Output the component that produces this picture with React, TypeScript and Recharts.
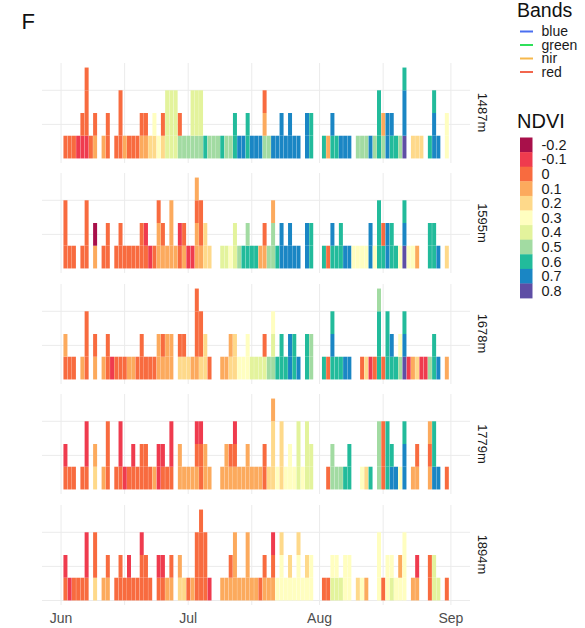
import React from 'react';
import { BarChart, Bar, Cell, XAxis, YAxis, CartesianGrid } from 'recharts';

// NDVI classes, coded 'a'..'k' in the daily stacks below
const NDVI_LEVELS = ['-0.2', '-0.1', '0', '0.1', '0.2', '0.3', '0.4', '0.5', '0.6', '0.7', '0.8'];
const NDVI_COLORS = [
  '#a8104a', '#ef3b4e', '#f86b3f', '#fcaa5d', '#fed98a', '#fffec0',
  '#e3f39c', '#a2dba2', '#22bb9b', '#1a86c4', '#5e4ea5',
];

const BANDS = ['blue', 'green', 'nir', 'red'];
const BAND_COLORS = ['#4a6ff0', '#2fe05a', '#f6b84c', '#f2664d'];

const ELEVATIONS = ['1487m', '1595m', '1678m', '1779m', '1894m'];

// day 0 = 1 June; each string is one day's stack, bottom first
const DAYS_1487 = [
  '', 'c', 'c', 'c', 'b', 'bc', 'bccc', 'c', 'dc', '',
  'd', 'cc', '', 'c', 'ccc', 'd', 'c', 'c', 'c', 'dc',
  'dc', 'e', 'ef', 'f', 'ec', 'ggg', 'ggg', 'ggg', 'hc', 'h',
  'h', 'hgg', 'hgg', 'hgg', 'i', 'h', 'h', 'h', 'i', 'h',
  'h', 'ii', 'j', 'j', 'ii', 'j', 'j', 'j', 'hdc', 'h',
  'j', 'j', 'jj', 'j', 'jj', 'j', 'j', '', 'jj', 'ii',
  '', '', 'i', 'd', 'ij', 'i', 'j', 'j', 'j', '',
  'h', 'h', 'h', 'j', 'h', 'iii', 'hd', 'jj', 'ij', 'i',
  'h', 'kjji', '', 'e', 'e', 'e', '', 'i', 'jji', 'j',
  '', 'ff',
];
const DAYS_1595 = [
  '', 'ccc', 'c', 'c', '', 'c', 'ccc', '', 'da', '',
  'c', 'cc', '', 'c', 'cc', 'c', 'c', 'c', 'c', 'cc',
  'cb', 'b', 'c', 'ddc', 'dc', 'd', 'ddd', 'd', 'cb', 'dc',
  'b', 'b', 'ddcd', 'dcc', 'ee', 'e', '', '', 'g', 'g',
  'f', 'gg', 'h', 'i', 'ih', 'i', 'i', 'd', 'dc', 'h',
  'hhd', 'i', 'jj', 'j', 'jj', 'j', 'j', '', 'jj', 'ii',
  '', '', 'i', 'c', 'ij', 'i', 'ii', 'j', 'j', 'f',
  'f', 'f', 'f', 'jj', 'f', 'iii', 'ic', 'jj', 'ii', 'i',
  'f', 'kji', 'f', 'f', 'd', '', '', 'ii', 'ii', 'j',
  '', 'e',
];
const DAYS_1678 = [
  '', 'cd', 'c', 'c', '', 'd', 'ccc', '', 'dc', '',
  'd', 'cc', 'b', 'c', 'c', 'c', 'd', 'd', 'c', 'cc',
  'c', 'c', 'c', 'dd', 'dc', 'dd', 'dd', '', 'ec', 'ec',
  'e', 'd', 'dccc', 'ecc', 'ee', 'c', '', '', 'd', 'd',
  'ed', 'ee', 'f', 'f', 'ff', 'g', 'g', 'g', 'gc', 'h',
  'hgf', 'i', 'ii', 'i', 'jj', 'ii', 'j', '', 'ii', 'hh',
  '', '', 'i', 'c', 'iji', 'i', 'i', 'j', 'j', '',
  '', 'c', 'e', 'b', 'c', 'iiih', 'c', 'iii', 'ij', 'i',
  'hf', 'kji', 'b', 'd', 'e', 'b', 'b', 'h', 'ii', 'j',
  '', 'd',
];
const DAYS_1779 = [
  '', 'cb', 'c', 'c', '', 'c', 'cbb', '', 'ed', '',
  'd', 'ccc', '', 'c', 'cbb', 'b', 'c', 'cb', 'c', 'cc',
  'cc', 'c', 'd', 'bb', 'cb', 'c', 'cbb', '', 'dd', 'd',
  'd', 'd', 'dcb', 'ccb', 'dd', 'd', '', '', 'd', 'dd',
  'dc', 'dcb', 'd', 'd', 'dd', 'd', 'd', 'd', 'cc', 'e',
  'eeed', 'f', 'eee', 'f', 'ff', 'f', 'ggg', 'f', 'ggg', 'gg',
  '', '', '', 'c', 'hh', 'h', 'h', 'i', 'ii', '',
  '', 'f', 'e', 'i', '', 'hhh', 'ccc', 'iii', 'ji', 'j',
  'f', 'jji', '', 'd', 'dc', '', '', 'dcd', 'jii', 'j',
  '', 'c',
];
const DAYS_1894 = [
  '', 'cb', 'b', 'c', 'c', 'c', 'cbb', '', 'ecc', '',
  'd', 'dc', '', 'c', 'cc', 'c', 'cb', 'c', 'c', 'ccb',
  'cc', 'c', '', 'cb', 'cb', 'd', 'dc', '', 'ed', 'e',
  'c', 'd', 'ccc', 'cccc', 'ccc', 'b', '', '', 'd', 'd',
  'dc', 'ddd', 'd', 'd', 'ddd', 'd', 'd', 'c', 'dc', 'd',
  'dcb', 'f', 'ffe', 'f', 'fe', 'f', 'ffe', 'f', 'fe', 'ff',
  '', '', 'c', 'c', 'gf', 'gf', 'g', 'ff', 'ff', '',
  'e', 'f', 'd', '', '', 'fff', 'c', 'ff', 'gf', 'f',
  'fd', 'fff', '', 'd', 'db', '', '', 'cc', 'gg', 'g',
  '', 'c',
];

const PANEL_DAYS = [DAYS_1487, DAYS_1595, DAYS_1678, DAYS_1779, DAYS_1894];

// month starts and mid-month grid lines
const MONTH_TICKS = [0, 15, 30, 45, 61, 76, 92];
const MONTH_LABELS: Record<number, string> = { 0: 'Jun', 30: 'Jul', 61: 'Aug', 92: 'Sep' };
const Y_TICKS = [0, 1.5, 3];

const FIRST_DAY = -4;
const LAST_DAY = 96;
const MAX_STACK = 4;

const FONT = '"Liberation Sans", Arial, sans-serif';
const PANEL_LEFT = 42;
const PANEL_WIDTH = 428;
const PANEL_HEIGHT = 100;
const PANEL_TOP = 62.5;
const PANEL_STEP = 110.5;
const AXIS_HEIGHT = 22;

function buildRows(days: string[]) {
  const rows: Record<string, number | string>[] = [];
  for (let d = FIRST_DAY; d <= LAST_DAY; d++) {
    const stack = days[d] ?? '';
    const row: Record<string, number | string> = { day: d };
    for (let k = 0; k < MAX_STACK; k++) {
      const code = stack[k];
      row[`s${k}`] = code ? 1 : 0;
      row[`c${k}`] = code ? NDVI_COLORS[code.charCodeAt(0) - 97] : 'none';
    }
    rows.push(row);
  }
  return rows;
}

function Panel({ days, top, showAxis }: { days: string[]; top: number; showAxis: boolean }) {
  const rows = buildRows(days);
  const height = PANEL_HEIGHT + (showAxis ? AXIS_HEIGHT : 0);
  return (
    <div style={{ position: 'absolute', left: PANEL_LEFT, top, width: PANEL_WIDTH, height }}>
      <BarChart
        width={PANEL_WIDTH}
        height={height}
        data={rows}
        margin={{ top: 0, right: 0, bottom: 0, left: 0 }}
        barCategoryGap="6%"
        barGap={0}
      >
        {/* grid only at the axis breaks, no frame round the panel */}
        <CartesianGrid stroke="#ebebeb" strokeWidth={1} syncWithTicks />
        <XAxis
          dataKey="day"
          type="category"
          ticks={MONTH_TICKS}
          interval={0}
          hide={!showAxis}
          height={AXIS_HEIGHT}
          axisLine={false}
          tickLine={false}
          tickSize={0}
          tickMargin={8}
          tick={{ fill: '#4d4d4d', fontSize: 14 }}
          tickFormatter={(v: number) => MONTH_LABELS[v] ?? ''}
        />
        <YAxis hide type="number" domain={[-0.2, 4.2]} ticks={Y_TICKS} allowDataOverflow />
        {Array.from({ length: MAX_STACK }, (_, k) => (
          <Bar key={k} dataKey={`s${k}`} stackId="n" isAnimationActive={false}>
            {rows.map((r, i) => (
              <Cell key={i} fill={r[`c${k}`] as string} />
            ))}
          </Bar>
        ))}
      </BarChart>
    </div>
  );
}

function Decorations() {
  const swatchTop = 137.5;
  const swatchH = 14.6;
  return (
    <svg
      width={585}
      height={628}
      style={{ position: 'absolute', left: 0, top: 0, fontFamily: FONT }}
    >
      <text x={21.5} y={29} fontSize={22} fill="#111">F</text>

      {ELEVATIONS.map((label, i) => {
        const cy = PANEL_TOP + i * PANEL_STEP + PANEL_HEIGHT / 2;
        return (
          <text
            key={label}
            x={482.5}
            y={cy}
            fontSize={13}
            fill="#1a1a1a"
            textAnchor="middle"
            dominantBaseline="central"
            transform={`rotate(90 482.5 ${cy})`}
          >
            {label}
          </text>
        );
      })}

      <text x={517} y={16.5} fontSize={19.5} fill="#111">Bands</text>
      {BANDS.map((b, i) => {
        const cy = 31.5 + i * 13.5;
        return (
          <g key={b}>
            <line x1={520} x2={533} y1={cy} y2={cy} stroke={BAND_COLORS[i]} strokeWidth={2} />
            <text x={541.5} y={cy + 4.5} fontSize={14} fill="#1a1a1a">{b}</text>
          </g>
        );
      })}

      <text x={517} y={128} fontSize={20} fill="#111">NDVI</text>
      {NDVI_LEVELS.map((lvl, i) => {
        const y = swatchTop + i * swatchH;
        return (
          <g key={lvl}>
            <rect x={520} y={y} width={12.5} height={swatchH + 0.3} fill={NDVI_COLORS[i]} />
            <text x={541.5} y={y + swatchH / 2 + 5} fontSize={14.5} fill="#1a1a1a">{lvl}</text>
          </g>
        );
      })}
    </svg>
  );
}

export default function App() {
  return (
    <div
      style={{
        position: 'absolute',
        left: 0,
        top: 0,
        width: 585,
        height: 628,
        background: '#fff',
        fontFamily: FONT,
        overflow: 'hidden',
      }}
    >
      <Decorations />
      {PANEL_DAYS.map((days, i) => (
        <Panel
          key={ELEVATIONS[i]}
          days={days}
          top={PANEL_TOP + i * PANEL_STEP}
          showAxis={i === PANEL_DAYS.length - 1}
        />
      ))}
    </div>
  );
}
